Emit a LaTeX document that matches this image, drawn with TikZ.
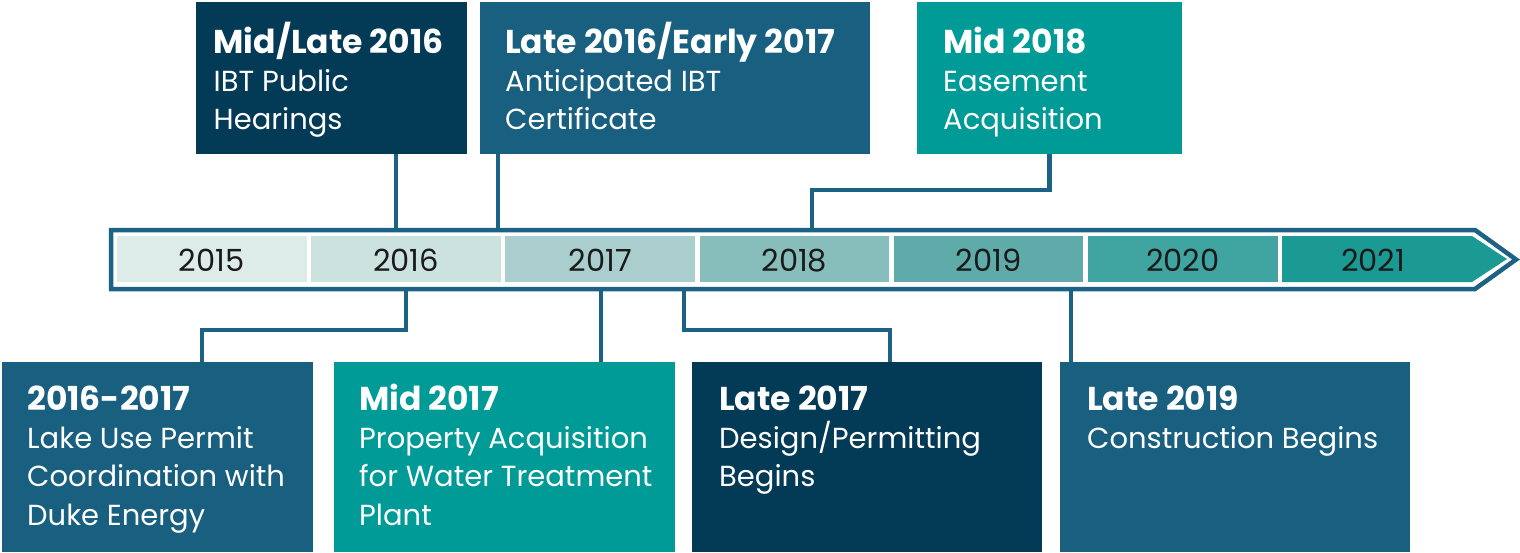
\documentclass[tikz,border=0pt]{standalone}
\usepackage{fontspec}
\setmainfont{Poppins}
\definecolor{navy}{HTML}{033A56}
\definecolor{steel}{HTML}{185F80}
\definecolor{teal}{HTML}{009B97}
\definecolor{framec}{HTML}{1B6284}
\definecolor{c15}{HTML}{DDEBE9}
\definecolor{c16}{HTML}{CCE2DF}
\definecolor{c17}{HTML}{A9CECD}
\definecolor{c18}{HTML}{87BDBA}
\definecolor{c19}{HTML}{5FABAA}
\definecolor{c20}{HTML}{40A4A0}
\definecolor{c21}{HTML}{1A9A92}
\definecolor{ytext}{HTML}{1A1A1A}
\newcommand{\evhead}[1]{{\fontsize{33}{38.3}\selectfont\bfseries #1}}
\begin{document}
\begin{tikzpicture}[x=1pt,y=-1pt,
  evbox/.style={draw=none,anchor=north west,inner sep=0pt,outer sep=0pt},
  evtext/.style={anchor=base west,inner sep=0pt,text=white,align=left,
    font=\fontsize{29}{38.3}\selectfont},
  yearbox/.style={draw=none,anchor=north west,inner sep=0pt,outer sep=0pt,
    minimum width=189.5pt,minimum height=46pt},
  yeartext/.style={text=ytext,inner sep=0pt,anchor=base,font=\fontsize{30.5}{32}\selectfont},
  conn/.style={draw=framec,line width=4.5pt},
  framestyle/.style={draw=framec,line width=4.5pt,line join=miter}]
\useasboundingbox (0,0) rectangle (1520,552);
% main arrow frame
\draw[framestyle] (111,230) -- (1475,230) -- (1516,259.5) -- (1475,289) -- (111,289) -- cycle;
% year boxes
\node[yearbox,fill=c15] (y2015) at (117,236) {};
\node[yearbox,fill=c16] (y2016) at (311.2,236) {};
\node[yearbox,fill=c17] (y2017) at (505.4,236) {};
\node[yearbox,fill=c18] (y2018) at (699.6,236) {};
\node[yearbox,fill=c19] (y2019) at (893.8,236) {};
\node[yearbox,fill=c20] (y2020) at (1088,236) {};
\fill[c21] (1282.2,236) -- (1472,236) -- (1507,259) -- (1472,282) -- (1282.2,282) -- cycle;
\coordinate (yb) at (0,271);
\node[yeartext] (t2015) at (y2015.center |- yb) {2015};
\node[yeartext] (t2016) at (y2016.center |- yb) {2016};
\node[yeartext] (t2017) at (y2017.center |- yb) {2017};
\node[yeartext] (t2018) at (y2018.center |- yb) {2018};
\node[yeartext] (t2019) at (y2019.center |- yb) {2019};
\node[yeartext] (t2020) at (y2020.center |- yb) {2020};
\node[yeartext] (t2021) at (1373,271) {2021};
% top event boxes
\node[evbox,fill=navy,minimum width=271pt,minimum height=152pt] (A) at (196,2) {};
\node[evbox,fill=steel,minimum width=390pt,minimum height=152pt] (B) at (480,2) {};
\node[evbox,fill=teal,minimum width=265.5pt,minimum height=152pt] (C) at (916.5,2) {};
% bottom event boxes
\node[evbox,fill=steel,minimum width=311pt,minimum height=190pt] (D) at (2,362) {};
\node[evbox,fill=teal,minimum width=341pt,minimum height=190pt] (E) at (334,362) {};
\node[evbox,fill=navy,minimum width=350pt,minimum height=190pt] (F) at (692,362) {};
\node[evbox,fill=steel,minimum width=350pt,minimum height=190pt] (G) at (1060,362) {};
% texts (base anchor = baseline of the last line)
\node[evtext] (At) at (213.5,129.6) {\evhead{Mid/Late 2016}\\IBT Public\\Hearings};
\node[evtext] (Bt) at (505,129.6) {\evhead{Late 2016/Early 2017}\\Anticipated IBT\\Certificate};
\node[evtext] (Ct) at (943,129.6) {\evhead{Mid 2018}\\Easement\\Acquisition};
\node[evtext] (Dt) at (27,525) {\evhead{2016-2017}\\Lake Use Permit\\Coordination with\\Duke Energy};
\node[evtext] (Et) at (359,525) {\evhead{Mid 2017}\\Property Acquisition\\for Water Treatment\\Plant};
\node[evtext] (Ft) at (719,486.6) {\evhead{Late 2017}\\Design/Permitting\\Begins};
\node[evtext] (Gt) at (1087,448.3) {\evhead{Late 2019}\\Construction Begins};
% connector anchor points on the frame
\coordinate (pA) at (396,230);
\coordinate (pB) at (498,230);
\coordinate (pC) at (812,230);
\coordinate (pD) at (406,289);
\coordinate (pE) at (601,289);
\coordinate (pF) at (684,289);
\coordinate (pG) at (1071,289);
% connectors
\draw[conn] (A.south -| pA) -- (pA);
\draw[conn] (B.south -| pB) -- (pB);
\draw[conn] (C.south) -- ++(0,36) -| (pC);
\draw[conn] (pD) -- ++(0,41) -| ([xshift=44.5pt]D.north);
\draw[conn] (pE) -- (pE |- E.north);
\draw[conn] (pF) -- ++(0,41) -| ([xshift=23pt]F.north);
\draw[conn] (pG) -- (pG |- G.north);
\end{tikzpicture}
\end{document}
